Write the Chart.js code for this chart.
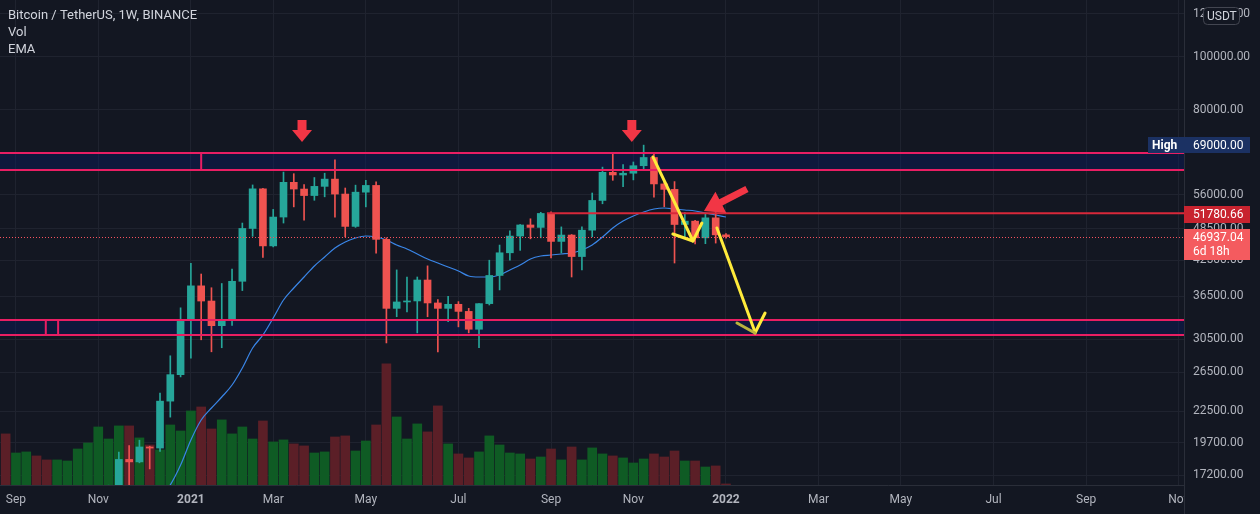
<!DOCTYPE html>
<html>
<head>
<meta charset="utf-8">
<title>Bitcoin / TetherUS, 1W, BINANCE</title>
<script src="https://cdn.jsdelivr.net/npm/chart.js@4.4.1/dist/chart.umd.min.js"></script>
<style>
  html, body { margin: 0; padding: 0; background: #131722; }
  #wrap { width: 1260px; height: 514px; }
</style>
</head>
<body>
<div id="wrap"><canvas id="btcChart" width="1260" height="514"></canvas></div>
<script>
// weekly bars, index 0 = week of 3 Jan 2022, first bar = week of 31 Aug 2020
var firstWeek = -70;
var opens = [11650,10250,10330,10920,10775,10680,11380,11500,13030,13740,15480,15960,18370,18180,19360,19270,23480,26250,33000,38150,35790,32260,33090,38890,48580,57400,45140,50970,59000,57350,55800,58000,59800,56150,49000,56600,58230,46400,34700,35650,35800,39100,35500,34700,35300,34260,31780,35400,39860,43850,47050,49300,48800,51750,46000,47250,43160,48230,54660,61530,60850,61300,63270,65500,58600,57270,49400,50100,46700,50800,47290];
var highs = [12050,10800,11180,10990,10950,11490,11750,13350,14100,15970,16480,18950,19480,19920,19420,24300,28420,34780,41950,40100,37850,38530,40960,49700,58350,57530,52640,61600,61180,58420,60200,61300,64850,57600,58300,59500,59100,46700,40800,39600,39600,41500,36000,36500,35700,34700,35400,42500,45300,48100,49400,50600,52000,52100,48900,47350,48900,56400,62900,66800,63600,64270,69000,66400,59400,59180,51950,50250,51800,52090,47550];
var lows = [9875,9880,10200,10140,10370,10530,11200,11400,12900,13220,14800,15800,16200,18110,17650,19000,21950,26000,28150,30400,28900,29400,32300,37400,47000,43000,44950,49700,53200,50300,54700,55500,50960,46900,48800,53200,43800,30000,33500,34180,31300,33500,28900,32800,32100,31300,29400,35200,37500,42500,44300,46500,46700,42900,43800,39600,40800,46900,53900,59500,57900,59600,62300,55400,53250,42000,46750,45500,45560,45680,46650];
var closes = [10250,10330,10920,10775,10680,11380,11500,13030,13740,15480,15960,18370,18180,19360,19270,23480,26250,33000,38150,35790,32260,33090,38890,48580,57400,45140,50970,59000,57350,55800,58000,59800,56150,49000,56600,58230,46400,34700,35650,35800,39100,35500,34700,35300,34260,31780,35400,39860,43850,47050,49300,48800,51750,46000,47250,43160,48230,54660,61530,60850,61300,63270,65500,58600,57270,49400,50100,46700,50800,47290,46937.04];
// volume, thousand BTC
var volumes = [434,272,281,247,213,213,204,306,357,493,391,502,502,400,340,298,510,459,629,663,476,553,434,493,391,544,366,383,349,332,272,281,408,417,289,374,510,1029,578,391,519,451,672,349,264,230,281,417,340,272,264,221,238,306,213,323,213,315,264,247,230,187,221,264,238,289,204,204,153,162,9];
var emaValues = [null,null,null,null,null,null,null,null,null,null,null,null,null,null,null,
  15600,16500,17940,19940,21690,22810,23890,25130,27000,29370,31020,33320,35940,37810,39600,41480,43080,44740,45890,46670,47060,46860,46280,45310,44560,43630,42720,42000,41300,40610,39770,39600,39600,39940,40790,41650,42720,43260,43440,43630,43810,44370,45310,46860,48680,50130,51200,52070,52730,52950,52730,52510,52290,51850,51410,50980];

var priceTicks = [17200,19700,22500,26500,30500,36500,42500,48500,56000,80000,100000,120000];
var monthTicks = [-69,-61,-52,-44,-35,-26,-17,-9,0,9,17,26,35,44];
var monthLabels = ['Sep','Nov','2021','Mar','May','Jul','Sep','Nov','2022','Mar','May','Jul','Sep','Nov'];

// drawings (week index, price)
var zoneHigh = [62140, 66750];
var zoneHighEdges = [-51];
var zoneLow = [31020, 33040];
var zoneLowEdges = [-66.1, -64.9];
var resistance = 51780.66, resistanceFrom = -17.4;
var lastPrice = 46937.04, athPrice = 69000;
var markerWeeks = [-41.2, -9.15], markerPrice = 76700;
var bigArrow = [[-2.14, 52290], [2.04, 57360]];
var yellowPaths = [
  [[-7.1, 65640], [-3.21, 46080], [-2.34, 49710]],
  [[-5.16, 47460], [-3.21, 46080]],
  [[-0.88, 48680], [2.82, 31410]],
  [[2.82, 31280], [3.8, 34030]]
];
var yellowHeadLeft = [[1.07, 32630], [2.82, 31280]];

var weekIdx = opens.map(function (o, i) { return firstWeek + i; });
var isUp = opens.map(function (o, i) { return closes[i] >= o; });
var candleCol = isUp.map(function (u) { return u ? '#26a69a' : '#ef5350'; });
var volCol = isUp.map(function (u) { return u ? '#0f5b24' : '#5b1f27'; });

var gridColor = '#1f232f';
Chart.defaults.font.family = 'Roboto';

function zeroPad(s) { s.paddingTop = 0; s.paddingBottom = 0; s.paddingLeft = 0; s.paddingRight = 0; }

var drawings = {
  id: 'drawings',
  beforeDraw: function (chart) {
    var ctx = chart.ctx;
    ctx.save();
    ctx.fillStyle = '#131722';
    ctx.fillRect(0, 0, chart.width, chart.height);
    ctx.restore();
  },
  beforeDatasetsDraw: function (chart) {
    var ctx = chart.ctx, a = chart.chartArea, ys = chart.scales.y;
    ctx.save();
    ctx.fillStyle = 'rgba(10,28,100,0.4)';
    [zoneHigh, zoneLow].forEach(function (z) {
      var y1 = ys.getPixelForValue(z[1]), y2 = ys.getPixelForValue(z[0]);
      ctx.fillRect(a.left, y1, a.right - a.left, y2 - y1);
    });
    ctx.restore();
  },
  afterDatasetsDraw: function (chart) {
    var ctx = chart.ctx, a = chart.chartArea, xs = chart.scales.x, ys = chart.scales.y;
    function X(w) { return xs.getPixelForValue(w); }
    function Y(p) { return ys.getPixelForValue(p); }
    ctx.save();
    ctx.beginPath();
    ctx.rect(a.left, a.top, a.right - a.left, a.bottom - a.top);
    ctx.clip();

    // zones
    ctx.strokeStyle = '#e91e63';
    ctx.lineWidth = 2;
    [[zoneHigh, zoneHighEdges], [zoneLow, zoneLowEdges]].forEach(function (z) {
      var y1 = Y(z[0][1]), y2 = Y(z[0][0]);
      ctx.beginPath();
      ctx.moveTo(a.left, y1); ctx.lineTo(a.right, y1);
      ctx.moveTo(a.left, y2); ctx.lineTo(a.right, y2);
      z[1].forEach(function (w) { ctx.moveTo(X(w), y1); ctx.lineTo(X(w), y2); });
      ctx.stroke();
    });

    // resistance level
    ctx.strokeStyle = '#d8283a';
    ctx.lineWidth = 2;
    ctx.beginPath();
    ctx.moveTo(X(resistanceFrom), Y(resistance));
    ctx.lineTo(a.right, Y(resistance));
    ctx.stroke();

    // last price
    ctx.strokeStyle = '#f7525f';
    ctx.lineWidth = 1;
    ctx.setLineDash([1, 2]);
    ctx.beginPath();
    ctx.moveTo(a.left, Math.round(Y(lastPrice)) + 0.5);
    ctx.lineTo(a.right, Math.round(Y(lastPrice)) + 0.5);
    ctx.stroke();
    ctx.setLineDash([]);

    // down markers
    ctx.fillStyle = '#f23645';
    markerWeeks.forEach(function (w) {
      var cx = X(w), top = Y(markerPrice);
      ctx.fillRect(cx - 4.5, top, 9, 10);
      ctx.beginPath();
      ctx.moveTo(cx - 10, top + 10);
      ctx.lineTo(cx + 10, top + 10);
      ctx.lineTo(cx, top + 22);
      ctx.closePath();
      ctx.fill();
    });

    // big arrow
    var tx = X(bigArrow[0][0]), ty = Y(bigArrow[0][1]);
    var sx = X(bigArrow[1][0]), sy = Y(bigArrow[1][1]);
    var len = Math.hypot(sx - tx, sy - ty), ux = (sx - tx) / len, uy = (sy - ty) / len;
    var nx = -uy, ny = ux, hl = 19, hw = 12, sw = 3.5;
    var bx = tx + ux * hl, by = ty + uy * hl;
    ctx.fillStyle = '#f23645';
    ctx.beginPath();
    ctx.moveTo(tx, ty);
    ctx.lineTo(bx + nx * hw, by + ny * hw);
    ctx.lineTo(bx + nx * sw, by + ny * sw);
    ctx.lineTo(sx + nx * sw, sy + ny * sw);
    ctx.lineTo(sx - nx * sw, sy - ny * sw);
    ctx.lineTo(bx - nx * sw, by - ny * sw);
    ctx.lineTo(bx - nx * hw, by - ny * hw);
    ctx.closePath();
    ctx.fill();

    // yellow path
    ctx.lineCap = 'round';
    ctx.lineJoin = 'round';
    ctx.lineWidth = 3;
    ctx.strokeStyle = '#ffeb3b';
    yellowPaths.forEach(function (p) {
      ctx.beginPath();
      p.forEach(function (pt, i) {
        if (i === 0) ctx.moveTo(X(pt[0]), Y(pt[1])); else ctx.lineTo(X(pt[0]), Y(pt[1]));
      });
      ctx.stroke();
    });
    ctx.strokeStyle = '#b9b43e';
    ctx.beginPath();
    ctx.moveTo(X(yellowHeadLeft[0][0]), Y(yellowHeadLeft[0][1]));
    ctx.lineTo(X(yellowHeadLeft[1][0]), Y(yellowHeadLeft[1][1]));
    ctx.stroke();
    ctx.restore();
  },
  afterDraw: function (chart) {
    var ctx = chart.ctx, a = chart.chartArea, ys = chart.scales.y;
    ctx.save();

    // price scale covers the time labels that run past the plot
    ctx.fillStyle = '#131722';
    ctx.fillRect(a.right + 1, a.bottom + 1, chart.width - a.right, chart.height - a.bottom);
    ctx.strokeStyle = '#2a2e39';
    ctx.lineWidth = 1;
    ctx.beginPath();
    ctx.moveTo(a.right + 0.5, a.bottom);
    ctx.lineTo(a.right + 0.5, chart.height);
    ctx.stroke();

    ctx.font = '12px Roboto';
    ctx.textBaseline = 'middle';

    function tag(yc, h, bg, lines) {
      var top = Math.round(yc - 8);
      ctx.fillStyle = bg;
      ctx.fillRect(a.right, top, 66, h);
      ctx.fillStyle = '#ffffff';
      lines.forEach(function (t, i) { ctx.fillText(t, a.right + 9, top + 8.5 + i * 14); });
    }
    // High
    var hy = ys.getPixelForValue(athPrice);
    ctx.fillStyle = '#1b3163';
    ctx.fillRect(a.right - 36, Math.round(hy - 8), 36, 16);
    ctx.fillStyle = '#ffffff';
    ctx.font = 'bold 12px Roboto';
    ctx.fillText('High', a.right - 32, Math.round(hy - 8) + 8.5);
    ctx.font = '12px Roboto';
    tag(hy, 16, '#1b3163', [athPrice.toFixed(2)]);
    tag(ys.getPixelForValue(resistance) + 1, 17, '#c8232f', [resistance.toFixed(2)]);
    tag(ys.getPixelForValue(lastPrice), 31, '#f45b5f', [lastPrice.toFixed(2), '6d 18h']);

    // USDT badge
    ctx.fillStyle = '#131722';
    ctx.strokeStyle = '#434651';
    ctx.lineWidth = 1;
    ctx.beginPath();
    ctx.roundRect(1203.5, 7.5, 36, 17, 4);
    ctx.fill();
    ctx.stroke();
    ctx.fillStyle = '#d1d4dc';
    ctx.fillText('USDT', 1207, 16.5);

    // legend text
    ctx.fillStyle = '#d1d4dc';
    ctx.font = '13px Roboto';
    ctx.fillText('Bitcoin / TetherUS, 1W, BINANCE', 8, 16);
    ctx.fillText('Vol', 8, 33);
    ctx.fillText('EMA', 8, 50);
    ctx.restore();
  }
};

new Chart('btcChart', {
  type: 'bar',
  data: {
    datasets: [
      {
        label: 'Vol',
        yAxisID: 'yv',
        data: weekIdx.map(function (w, i) { return { x: w, y: volumes[i] }; }),
        backgroundColor: volCol,
        barThickness: 9,
        grouped: false,
        order: 4
      },
      {
        type: 'line',
        label: 'EMA',
        yAxisID: 'y',
        data: weekIdx.map(function (w, i) { return { x: w, y: emaValues[i] }; }),
        borderColor: '#3a86e8',
        borderWidth: 1.2,
        pointRadius: 0,
        cubicInterpolationMode: 'monotone',
        order: 3
      },
      {
        label: 'wick',
        yAxisID: 'y',
        data: weekIdx.map(function (w, i) { return { x: w, y: [lows[i], highs[i]] }; }),
        backgroundColor: candleCol,
        barThickness: 1,
        grouped: false,
        order: 2
      },
      {
        label: 'body',
        yAxisID: 'y',
        data: weekIdx.map(function (w, i) { return { x: w, y: [Math.min(opens[i], closes[i]), Math.max(opens[i], closes[i])] }; }),
        backgroundColor: candleCol,
        barThickness: 7,
        minBarLength: 1,
        grouped: false,
        order: 1
      }
    ]
  },
  options: {
    responsive: false,
    animation: false,
    devicePixelRatio: 1,
    layout: { padding: 0 },
    plugins: {
      legend: { display: false },
      tooltip: { enabled: false },
      title: { display: false }
    },
    scales: {
      x: {
        type: 'linear',
        min: -70.55,
        max: 44.51,
        offset: false,
        grid: { color: gridColor, drawTicks: false, offset: false },
        border: { color: '#2a2e39' },
        afterBuildTicks: function (s) { s.ticks = monthTicks.map(function (v) { return { value: v }; }); },
        afterFit: function (s) { s.height = 29; zeroPad(s); },
        ticks: {
          autoSkip: false,
          maxRotation: 0,
          padding: 8,
          color: '#b2b5be',
          font: function (c) {
            var k = monthTicks.indexOf(c.tick ? c.tick.value : NaN);
            var yr = k >= 0 && /^\d+$/.test(monthLabels[k]);
            return { family: 'Roboto', size: 12, weight: yr ? 'bold' : 'normal' };
          },
          callback: function (v) {
            var k = monthTicks.indexOf(v);
            return k < 0 ? '' : monthLabels[k];
          }
        }
      },
      y: {
        type: 'logarithmic',
        position: 'right',
        min: 16494,
        max: 127125,
        grid: { color: gridColor, drawTicks: false },
        border: { color: '#2a2e39' },
        afterBuildTicks: function (s) { s.ticks = priceTicks.map(function (v) { return { value: v }; }); },
        afterFit: function (s) { s.width = 76; zeroPad(s); },
        ticks: {
          autoSkip: false,
          padding: 9,
          color: '#b2b5be',
          font: { family: 'Roboto', size: 12 },
          callback: function (v) { return Number(v).toFixed(2); }
        }
      },
      yv: {
        type: 'linear',
        display: false,
        min: 0,
        max: 4120
      }
    }
  },
  plugins: [drawings]
});
</script>
</body>
</html>
